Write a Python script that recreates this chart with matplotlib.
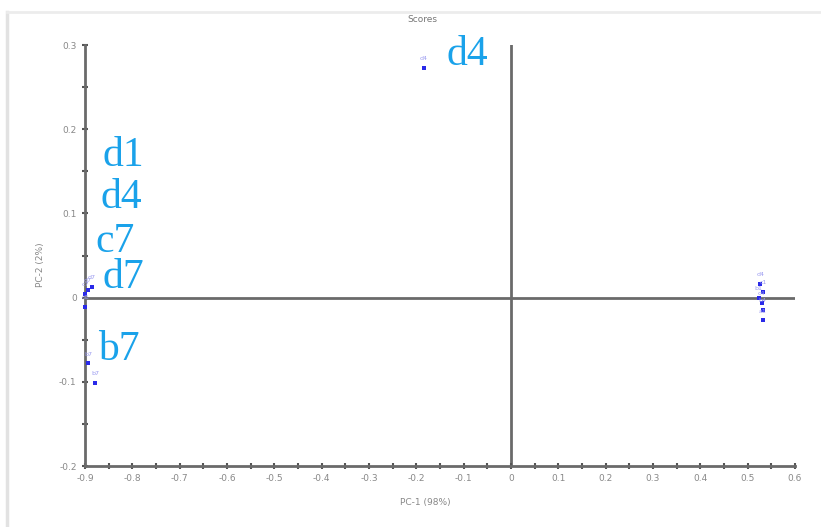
import numpy as np
import matplotlib.pyplot as plt
from matplotlib.lines import Line2D
from matplotlib.ticker import MultipleLocator, FuncFormatter

# PCA scores (PC-1, PC-2) for the samples
sample_names = ["d7", "d7", "c7", "d1", "b7", "b7", "d4",
                "d4", "c1", "b1", "c4", "b4", "a1"]
pc1 = [-0.894, -0.886, -0.899, -0.899, -0.893, -0.879, -0.184,
       0.527, 0.532, 0.523, 0.530, 0.532, 0.532]
pc2 = [0.009, 0.013, 0.004, -0.011, -0.078, -0.101, 0.273,
       0.016, 0.007, 0.000, -0.006, -0.015, -0.027]

# large group labels placed next to the clusters
group_labels = ["d4", "d1", "d4", "c7", "d7", "b7"]
group_x = [-0.137, -0.862, -0.867, -0.879, -0.862, -0.873]
group_y = [0.276, 0.156, 0.106, 0.054, 0.0114, -0.074]

x_ticks = np.round(np.arange(-0.9, 0.61, 0.1), 1)
y_ticks = np.round(np.arange(-0.2, 0.31, 0.1), 1)

fig = plt.figure(figsize=(8.21, 5.27), dpi=100)
ax = fig.add_axes([85 / 821, 61 / 527, 710 / 821, 421 / 527])

axis_col = "#6a6a6a"
ax.set_xlim(-0.9, 0.6)
ax.set_ylim(-0.2, 0.3)
for side in ["top", "right"]:
    ax.spines[side].set_visible(False)
for side in ["left", "bottom"]:
    ax.spines[side].set_color(axis_col)
    ax.spines[side].set_linewidth(2)

ax.axhline(0, color=axis_col, lw=2, zorder=1)
ax.axvline(0, color=axis_col, lw=2, zorder=1)

ax.set_xticks(x_ticks)
ax.set_yticks(y_ticks)
ax.xaxis.set_minor_locator(MultipleLocator(0.05))
ax.yaxis.set_minor_locator(MultipleLocator(0.05))
fmt = FuncFormatter(lambda v, p: "0" if abs(v) < 1e-9 else ("%.1f" % v))
ax.xaxis.set_major_formatter(fmt)
ax.yaxis.set_major_formatter(fmt)
ax.tick_params(which="both", direction="inout", length=4, width=1.5,
               color="#555555", labelsize=6.5, labelcolor="#888888", pad=4)

ax.scatter(pc1, pc2, marker="s", s=9, color="#2a2ae8", linewidths=0,
           zorder=3, clip_on=False)
for name, x, y in zip(sample_names, pc1, pc2):
    ax.text(x, y + 0.008, name, fontsize=4.5, color="#9a9af0",
            ha="center", va="bottom", zorder=3)

for lab, x, y in zip(group_labels, group_x, group_y):
    ax.text(x, y, lab, fontsize=30, family="Liberation Serif",
            color="#1aa2ea", ha="left", va="baseline", zorder=4)

fig.text(422 / 821, 1 - 20 / 527, "Scores", fontsize=6.5, color="#777777",
         ha="center", va="center")
fig.text(425 / 821, 1 - 503 / 527, "PC-1 (98%)", fontsize=6.5,
         color="#888888", ha="center", va="center")
fig.text(40 / 821, 1 - 265 / 527, "PC-2 (2%)", fontsize=6.5,
         color="#888888", ha="center", va="center", rotation=90)

# light frame along the top and left edges
fig.add_artist(Line2D([7 / 821, 7 / 821], [0, 1 - 12 / 527],
                      transform=fig.transFigure, color="#e2e2e2", lw=2.5))
fig.add_artist(Line2D([7 / 821, 1], [1 - 12 / 527, 1 - 12 / 527],
                      transform=fig.transFigure, color="#ececec", lw=2))

fig.savefig("out.png", dpi=100)
